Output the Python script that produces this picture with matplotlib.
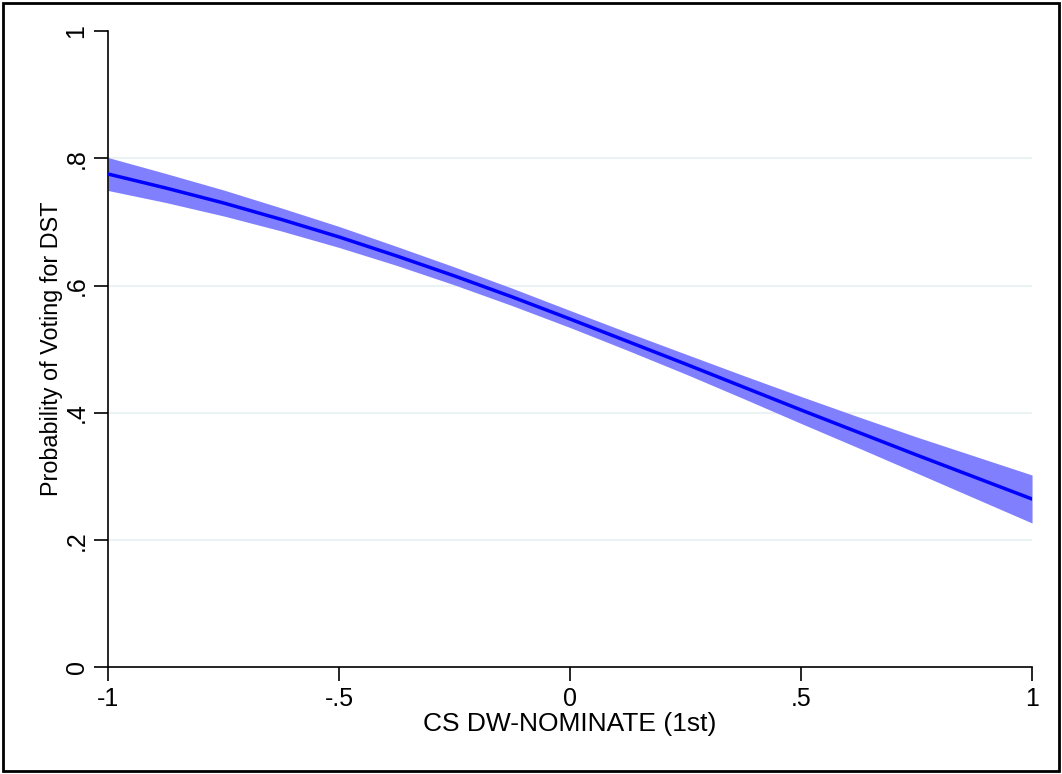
import numpy as np
import matplotlib
matplotlib.use("Agg")
from matplotlib import pyplot as plt
from matplotlib.patches import Rectangle

plt.rcParams['font.family'] = ['Liberation Sans', 'DejaVu Sans']

# values
nominate = [-1.0, -0.875, -0.75, -0.625, -0.5, -0.375, -0.25, -0.125, 0.0,
            0.125, 0.25, 0.375, 0.5, 0.625, 0.75, 0.875, 1.0]
prob = [0.7753, 0.7533, 0.7298, 0.7039, 0.6764, 0.6465, 0.6151, 0.5821, 0.5475,
        0.5122, 0.4768, 0.4407, 0.4046, 0.3692, 0.3339, 0.2993, 0.2647]
upper = [0.8012, 0.7761, 0.7502, 0.7220, 0.6929, 0.6614, 0.6292, 0.5958, 0.5609,
         0.5263, 0.4925, 0.4588, 0.4258, 0.3936, 0.3622, 0.3323, 0.3024]
lower = [0.7494, 0.7305, 0.7094, 0.6858, 0.6599, 0.6316, 0.6010, 0.5684, 0.5341,
         0.4981, 0.4611, 0.4226, 0.3834, 0.3448, 0.3056, 0.2663, 0.2270]

xticks = [-1, -0.5, 0, 0.5, 1]
xtick_labels = ['-1', '-.5', '0', '.5', '1']
yticks = [0, 0.2, 0.4, 0.6, 0.8, 1]
ytick_labels = ['0', '.2', '.4', '.6', '.8', '1']

fig = plt.figure(figsize=(10.62, 7.74), dpi=100)
ax = fig.add_axes([0.1017, 0.1376, 0.8701, 0.8224])

for g in [0.2, 0.4, 0.6, 0.8]:
    ax.axhline(g, color='#eaf2f3', lw=1.5, zorder=0)

ax.fill_between(nominate, lower, upper, color='#8080ff', lw=0, zorder=2)
ax.plot(nominate, prob, color='#0000ff', lw=2.5, zorder=3)

ax.set_xlim(-1, 1)
ax.set_ylim(0, 1)
ax.set_xticks(xticks)
ax.set_xticklabels(xtick_labels)
ax.set_yticks(yticks)
ax.set_yticklabels(ytick_labels, rotation=90, va='center')

for s in ['top', 'right']:
    ax.spines[s].set_visible(False)
for s in ['left', 'bottom']:
    ax.spines[s].set_linewidth(1.2)

ax.tick_params(axis='both', direction='out', length=10, width=1.2, labelsize=18, pad=4)
ax.set_xlabel('CS DW-NOMINATE (1st)', fontsize=19, labelpad=1)
ax.set_ylabel('Probability of Voting for DST', fontsize=16.8, labelpad=1)

fig.patches.append(Rectangle((0.003, 0.004), 0.994, 0.992, transform=fig.transFigure,
                             fill=False, edgecolor='black', lw=2))

fig.savefig('out.png', dpi=100)
